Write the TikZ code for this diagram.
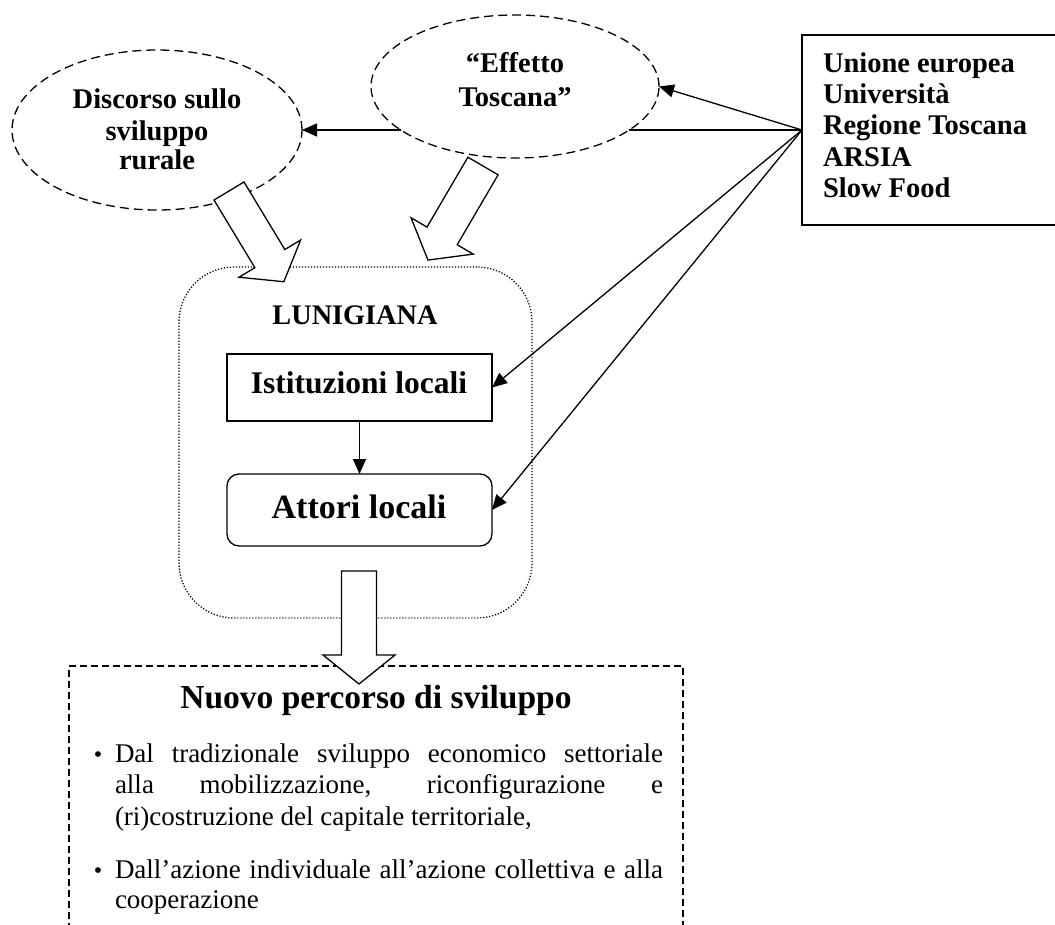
\documentclass[tikz,border=0pt]{standalone}
\usepackage{fontspec}
\setmainfont{Liberation Serif}
\usetikzlibrary{arrows.meta,shapes.geometric}

% wide hollow arrow pointing along +x, tail centre at the origin: length/head length
\tikzset{
  pics/fatarrow/.style args={#1/#2}{code={
    \draw[blockarrow] (0,-17.5) -- ({#1-#2},-17.5) -- ({#1-#2},-36) -- (#1,0)
      -- ({#1-#2},36) -- ({#1-#2},17.5) -- (0,17.5) -- cycle;
  }}
}

\begin{document}
\begin{tikzpicture}[x=1pt,y=-1pt,
  every node/.style={inner sep=0pt, outer sep=0pt},
  lbl/.style={font=\bfseries\fontsize{28.5}{31}\selectfont, anchor=base},
  rlbl/.style={font=\bfseries\fontsize{28.5}{31}\selectfont, anchor=base west},
  body/.style={font=\fontsize{27}{31}\selectfont, anchor=base west},
  bul/.style={font=\fontsize{24}{26}\selectfont, anchor=base},
  cloud/.style={ellipse, draw, dash pattern=on 9pt off 5pt, line width=1.3pt},
  solidbox/.style={draw, line width=1.3pt},
  conn/.style={line width=1.3pt},
  arr/.style={conn, -{Triangle[length=15pt,width=13pt]}},
  blockarrow/.style={draw, fill=white, line width=1.3pt, line join=miter}
]
\useasboundingbox (0,0) rectangle (1055,924);
\clip (0,0) rectangle (1055,924);

% outer shapes
\node[cloud, minimum width=290pt, minimum height=160pt] (disc) at (157,130) {};
\node[cloud, minimum width=288pt, minimum height=143pt] (eff) at (515,86.5) {};
\node[solidbox, minimum width=270pt, minimum height=190pt] (src) at (937,130) {};
\node[draw, rounded corners=55pt, line width=1.3pt, dash pattern=on 1.2pt off 1.8pt,
      minimum width=353pt, minimum height=351pt] (lun) at (355.5,442.5) {};
\node[solidbox, minimum width=265pt, minimum height=67pt] (ist) at (359.5,387.5) {};
\node[solidbox, rounded corners=12pt, minimum width=265pt, minimum height=72pt] (att) at (359.5,510) {};
\node[draw, line width=1.2pt, dash pattern=on 7pt off 4pt,
      minimum width=614pt, minimum height=264pt] (out) at (376,798) {};

% labels
\node[lbl] (d1) at (157,108) {Discorso sullo};
\node[lbl] (d2) at (157,140) {sviluppo};
\node[lbl] (d3) at (157,169) {rurale};
\node[lbl] (e1) at (515,72) {“Effetto};
\node[lbl] (e2) at (515,106) {Toscana”};
\node[rlbl] (s1) at (823,72) {Unione europea};
\node[rlbl] (s2) at (823,103) {Università};
\node[rlbl] (s3) at (823,134.5) {Regione Toscana};
\node[rlbl] (s4) at (823,166) {ARSIA};
\node[rlbl] (s5) at (823,197) {Slow Food};
\node[lbl, font=\bfseries\fontsize{28.3}{31}\selectfont] (lt) at (355,324) {LUNIGIANA};
\node[lbl, font=\bfseries\fontsize{31.5}{34}\selectfont] (it) at (359,393) {Istituzioni locali};
\node[lbl, font=\bfseries\fontsize{34}{37}\selectfont] (at) at (359,518) {Attori locali};
\node[lbl, font=\bfseries\fontsize{33.5}{37}\selectfont] (nt) at (376,708) {Nuovo percorso di sviluppo};

% bullet list
\node[bul] (b1) at (98,762) {\textbullet};
\node[body] (l1) at (115,762) {\makebox[548pt][s]{Dal tradizionale sviluppo economico settoriale}};
\node[body] (l2) at (115,793) {\makebox[548pt][s]{alla mobilizzazione, riconfigurazione e}};
\node[body] (l3) at (115,825) {(ri)costruzione del capitale territoriale,};
\node[bul] (b2) at (98,878) {\textbullet};
\node[body] (l4) at (115,878) {\makebox[548pt][s]{Dall’azione individuale all’azione collettiva e alla}};
\node[body] (l5) at (115,908) {cooperazione};

% connectors
\coordinate (effR) at (629,130);
\coordinate (effL) at (401,130);
\draw[arr] (src.west) -- (eff.east);
\draw[conn] (src.west) -- (effR);
\draw[arr] (effL) -- (disc.east);
\draw[arr] (src.west) -- (ist.east);
\draw[arr] (src.west) -- (att.east);
\draw[arr] (ist.south) -- (att.north);

% block arrows
\pic[rotate=-58.85] at (229,191) {fatarrow=106/27};
\pic[rotate=-120.33] at (483,166) {fatarrow=109/28};
\pic[rotate=-90] at (359,571) {fatarrow=113/29};
\end{tikzpicture}
\end{document}
